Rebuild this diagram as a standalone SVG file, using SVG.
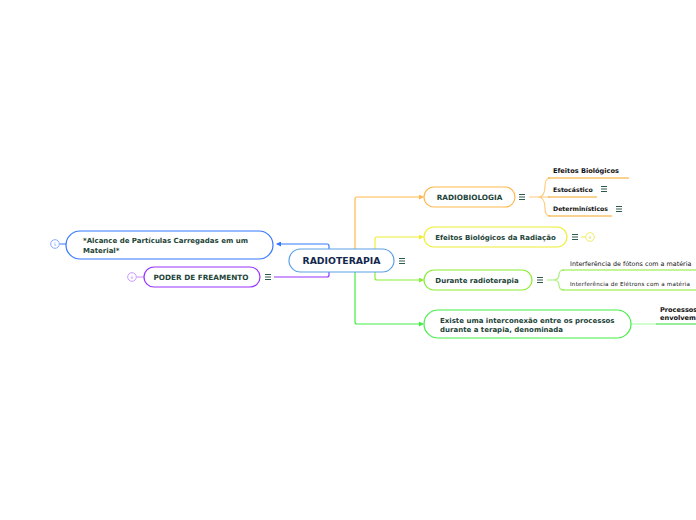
<svg xmlns="http://www.w3.org/2000/svg" width="696" height="520" viewBox="0 0 696 520">
<style>
.t{font-family:"DejaVu Sans",Verdana,sans-serif;font-weight:bold;fill:#1d4438;font-size:7.3px}
.m{font-size:7px}
.s{font-family:"DejaVu Sans",Verdana,sans-serif;fill:#111;}
.sb{font-family:"DejaVu Sans",Verdana,sans-serif;font-weight:bold;fill:#111;font-size:6.6px}
.node{fill:#fff;stroke-width:1.2}
.c{fill:none;stroke-width:1.2}
.badge{fill:#fff;stroke-width:1}
.bt{font-family:"DejaVu Sans",sans-serif;font-size:4.5px;text-anchor:middle}
</style>
<defs>
<g id="menu" stroke="#2e5a4c" stroke-width="1"><line x1="0" y1="-2.5" x2="6" y2="-2.5"/><line x1="0" y1="0" x2="6" y2="0"/><line x1="0" y1="2.5" x2="6" y2="2.5"/></g>
<marker id="ao" markerWidth="5" markerHeight="5" refX="4" refY="2.5" orient="auto" markerUnits="userSpaceOnUse"><path d="M0,0 L5,2.5 L0,5 z" fill="#ffb84d"/></marker>
<marker id="ay" markerWidth="5" markerHeight="5" refX="4" refY="2.5" orient="auto" markerUnits="userSpaceOnUse"><path d="M0,0 L5,2.5 L0,5 z" fill="#eeee33"/></marker>
<marker id="al" markerWidth="5" markerHeight="5" refX="4" refY="2.5" orient="auto" markerUnits="userSpaceOnUse"><path d="M0,0 L5,2.5 L0,5 z" fill="#88ee33"/></marker>
<marker id="ag" markerWidth="5" markerHeight="5" refX="4" refY="2.5" orient="auto" markerUnits="userSpaceOnUse"><path d="M0,0 L5,2.5 L0,5 z" fill="#44ee44"/></marker>
<marker id="ab" markerWidth="5" markerHeight="5" refX="4" refY="2.5" orient="auto" markerUnits="userSpaceOnUse"><path d="M0,0 L5,2.5 L0,5 z" fill="#3377ff"/></marker>
</defs>

<g id="connectors">
<path class="c" stroke="#3377ff" d="M329,249 V246 Q329,244 327,244 H277" marker-end="url(#ab)"/>
<path class="c" stroke="#9933ff" d="M329,272 V275 Q329,277 327,277 H274"/>
<path class="c" stroke="#ffb84d" d="M355,249 V199 Q355,197 357,197 H423" marker-end="url(#ao)"/>
<path class="c" stroke="#eeee33" d="M375,249 V239 Q375,237 377,237 H423" marker-end="url(#ay)"/>
<path class="c" stroke="#88ee33" d="M375,272 V278 Q375,280 377,280 H423" marker-end="url(#al)"/>
<path class="c" stroke="#44ee44" d="M355,272 V322 Q355,324 357,324 H423" marker-end="url(#ag)"/>
<path class="c" stroke="#ffcc80" d="M529,197 H538 M538,197 Q545,197 545,186 Q545,178 550,178 M538,197 H550 M538,197 Q545,197 545,208 Q545,216 550,216"/>
<path class="c" stroke="#f5a623" stroke-width="1.6" d="M548,178 H629 M548,197 H597 M548,216 H612"/>
<line x1="581" y1="237" x2="586" y2="237" stroke="#eeee55" stroke-width="1"/>
<path class="c" stroke="#aaf07a" d="M547,280 H553 Q559,280 559,275 Q559,270 564,270 M553,280 Q559,280 559,285 Q559,290 564,290"/>
<path class="c" stroke="#88ee33" stroke-width="1.6" d="M562,270 H696 M562,290 H696"/>
<path class="c" stroke="#b0ffb0" d="M631,324 H657"/>
<path class="c" stroke="#33dd33" stroke-width="1.8" d="M656,324 H696"/>
<line x1="59.5" y1="244" x2="66" y2="244" stroke="#3377ff" stroke-width="1"/>
<line x1="136.5" y1="277" x2="144" y2="277" stroke="#cc88ff" stroke-width="1"/>
</g>

<g id="n-center">
<rect class="node" x="289" y="249" width="105" height="23" rx="11.5" stroke="#5aa0e6"/>
<text class="t" x="341.5" y="264.3" text-anchor="middle" style="font-size:9.3px;fill:#13284d">RADIOTERAPIA</text>
<use href="#menu" x="399" y="261"/>
</g>

<g id="n-alcance">
<rect class="node" x="66" y="231" width="207" height="28" rx="14" stroke="#3377ff"/>
<text class="t m" x="83" y="243">*Alcance de Partículas Carregadas em um</text>
<text class="t m" x="83" y="252.5">Material*</text>
<circle class="badge" cx="55" cy="244" r="4.3" stroke="#88aaff"/>
<text class="bt" x="55" y="245.6" fill="#88aaff">5</text>
</g>

<g id="n-poder">
<rect class="node" x="144" y="267" width="116" height="20" rx="10" stroke="#9933ff"/>
<text class="t" x="201" y="279.6" text-anchor="middle">PODER DE FREAMENTO</text>
<use href="#menu" x="265" y="277"/>
<circle class="badge" cx="132" cy="277" r="4.3" stroke="#cc99ff"/>
<text class="bt" x="132" y="278.6" fill="#cc99ff">6</text>
</g>

<g id="n-radiobiologia">
<rect class="node" x="424" y="187" width="91" height="20" rx="10" stroke="#ffb84d"/>
<text class="t" x="469.5" y="199.6" text-anchor="middle">RADIOBIOLOGIA</text>
<use href="#menu" x="519" y="197"/>
</g>

<g id="n-efeitos-bio">
<text class="sb" x="553" y="172.5">Efeitos Biológicos</text>
</g>
<g id="n-estocastico">
<text class="sb" x="553" y="191.5" style="font-size:6.2px">Estocástico</text>
<use href="#menu" x="601" y="189"/>
</g>
<g id="n-deterministicos">
<text class="sb" x="553" y="210.5" style="font-size:6.2px">Determinísticos</text>
<use href="#menu" x="616" y="209"/>
</g>

<g id="n-efeitos-radiacao">
<rect class="node" x="424" y="227" width="143" height="20" rx="10" stroke="#eeee33"/>
<text class="t m" x="495.5" y="239.6" text-anchor="middle">Efeitos Biológicos da Radiação</text>
<use href="#menu" x="572" y="237"/>
<circle class="badge" cx="590" cy="237" r="4.3" stroke="#eeee66"/>
<text class="bt" x="590" y="238.6" fill="#dddd55">4</text>
</g>

<g id="n-durante">
<rect class="node" x="424" y="270" width="108" height="20" rx="10" stroke="#88ee33"/>
<text class="t m" x="477" y="282.6" text-anchor="middle">Durante radioterapia</text>
<use href="#menu" x="537" y="280"/>
</g>
<g id="n-fotons">
<text class="s" x="570" y="265.5" style="font-size:6.4px">Interferência de fótons com a matéria</text>
</g>
<g id="n-eletrons">
<text class="s" x="570" y="285.5" style="font-size:5.6px" textLength="120" lengthAdjust="spacing">Interferência de Elétrons com a matéria</text>
</g>

<g id="n-existe">
<rect class="node" x="424" y="310" width="207" height="28" rx="14" stroke="#44ee44"/>
<text class="t m" x="440" y="322.5">Existe uma interconexão entre os processos</text>
<text class="t m" x="440" y="332">durante a terapia, denominada</text>
</g>
<g id="n-processos">
<text class="sb" x="660" y="312">Processos</text>
<text class="sb" x="660" y="320">envolvem</text>
</g>
</svg>
